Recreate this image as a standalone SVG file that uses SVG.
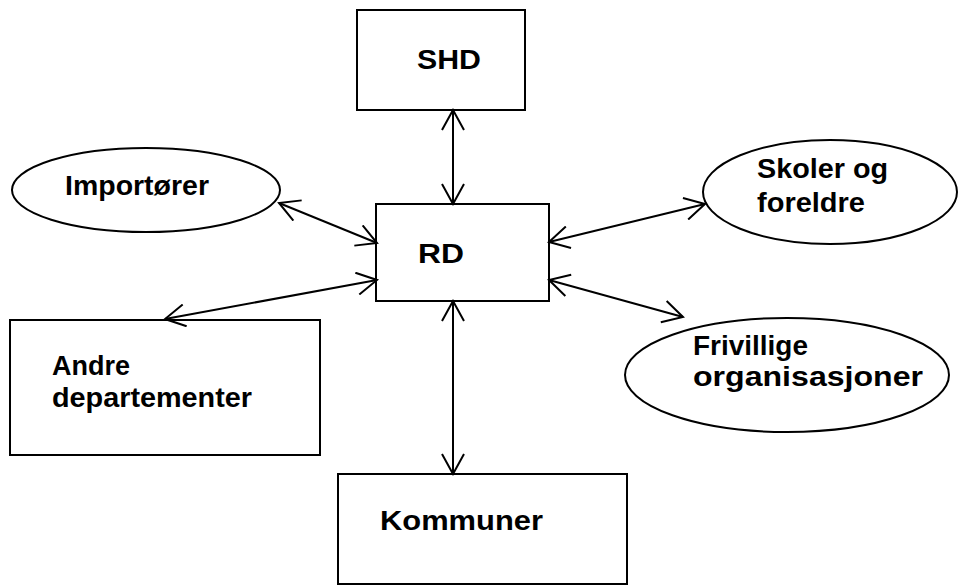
<svg xmlns="http://www.w3.org/2000/svg" width="962" height="585" viewBox="0 0 962 585">
<defs>
<style>
.shape{fill:#fff;stroke:#000;stroke-width:2}
.conn line{stroke:#000;stroke-width:2;marker-start:url(#ah);marker-end:url(#ah)}
text{font-family:"Liberation Sans",Arial,sans-serif;font-weight:bold;font-size:27px;fill:#000}
</style>
<marker id="ah" viewBox="-22 -12 24 24" markerWidth="24" markerHeight="24" refX="0" refY="0" orient="auto-start-reverse" markerUnits="userSpaceOnUse">
<path d="M-20,-11 L0,0 L-20,11" fill="none" stroke="#000" stroke-width="2"/>
</marker>
</defs>
<rect width="962" height="585" fill="#fff"/>
<g id="shd"><rect class="shape" x="357" y="10" width="168" height="100"/><text x="417" y="69" textLength="64" lengthAdjust="spacingAndGlyphs">SHD</text></g>
<g id="rd"><rect class="shape" x="376" y="204" width="173" height="97"/><text x="418" y="263" textLength="46" lengthAdjust="spacingAndGlyphs">RD</text></g>
<g id="importorer"><ellipse class="shape" cx="146" cy="190" rx="134" ry="42"/><text x="65" y="195" textLength="144" lengthAdjust="spacingAndGlyphs">Importører</text></g>
<g id="skoler"><ellipse class="shape" cx="830" cy="192" rx="127" ry="52"/><text x="757" y="178" textLength="131" lengthAdjust="spacingAndGlyphs">Skoler og</text><text x="757" y="212" textLength="108" lengthAdjust="spacingAndGlyphs">foreldre</text></g>
<g id="frivillige"><ellipse class="shape" cx="787" cy="375" rx="162" ry="57"/><text x="693" y="355" textLength="115" lengthAdjust="spacingAndGlyphs">Frivillige</text><text x="693" y="386" textLength="230" lengthAdjust="spacingAndGlyphs">organisasjoner</text></g>
<g id="andre"><rect class="shape" x="10" y="320" width="310" height="135"/><text x="52" y="375" textLength="78" lengthAdjust="spacingAndGlyphs">Andre</text><text x="52" y="407" textLength="200" lengthAdjust="spacingAndGlyphs">departementer</text></g>
<g id="kommuner"><rect class="shape" x="338" y="474" width="289" height="110"/><text x="380" y="530" textLength="163" lengthAdjust="spacingAndGlyphs">Kommuner</text></g>
<g id="connectors" class="conn">
<line x1="453" y1="110" x2="453" y2="204"/>
<line x1="453" y1="301" x2="453" y2="474"/>
<line x1="279" y1="203" x2="377" y2="243"/>
<line x1="165" y1="319" x2="377" y2="280"/>
<line x1="549" y1="242" x2="705" y2="204"/>
<line x1="549" y1="280" x2="683" y2="317"/>
</g>
</svg>
